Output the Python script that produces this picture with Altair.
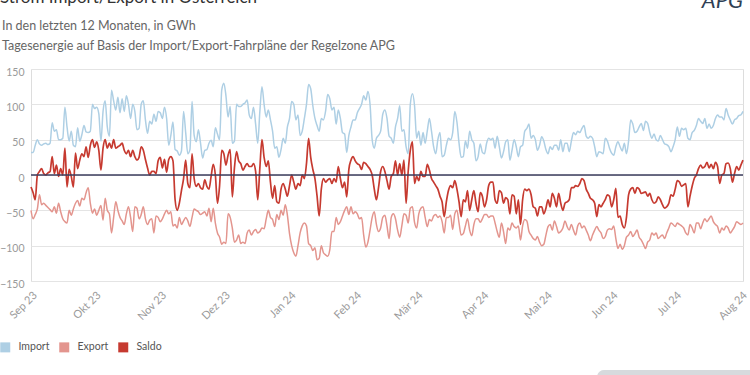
import altair as alt
import pandas as pd

# ---------------- data (daily values in GWh) ----------------
start_date = "2023-09-01"

import_vals = [
    32, 32, 42, 50, 44, 42, 44, 45, 43, 45, 74, 62, 64, 50, 50, 52, 96, 68, 48, 62,
    42, 40, 67, 48, 57, 70, 61, 60, 62, 100, 94, 96, 87, 48, 90, 105, 68, 55, 120, 105,
    92, 110, 88, 108, 90, 112, 100,
    80, 100, 90, 64, 66, 100, 105, 78, 59, 76, 72, 86, 76, 90, 88, 80, 96, 80, 42, 56,
    75, 36, 34, 28, 34, 90, 60, 30, 36, 104, 56, 47, 64, 45, 24, 35, 36, 45, 49, 40,
    67, 58, 50, 120, 130, 112, 82, 97, 45, 48, 100, 97, 97, 100, 102, 106, 85,
    80, 96, 72, 45, 90, 125, 100, 82, 92, 78, 62, 38, 40, 25, 36, 52, 45, 68, 80, 104,
    100, 78, 85, 56, 62, 80, 100, 128, 122, 98, 80, 70, 62, 80, 78, 90, 114, 108, 92, 96,
    72, 92, 80, 60, 58, 32, 56, 68, 78, 78, 88, 94, 100, 112, 106, 118, 100,
    50, 38, 52, 56, 62, 86, 92, 80, 55, 52, 45, 68, 80, 98, 62, 64, 40, 30, 100, 115,
    98, 52, 62, 42, 60, 45, 62, 80, 62, 40, 30, 50, 60, 26, 28, 42, 52, 50, 60, 90,
    75, 45, 25, 26, 48, 38, 62, 50, 45, 20, 26, 44, 32, 30, 45, 52,
    50, 52, 38, 55, 40, 24, 33, 47, 50, 21, 35, 50, 40, 26, 40, 42, 62, 66, 72, 52,
    56, 50, 35, 42, 54, 48, 36, 30, 40, 36, 42, 42, 35, 50, 33, 45, 45, 33, 48, 60,
    57, 62, 60, 66, 70, 55, 52, 55, 52, 40, 26, 33, 32, 30, 52, 48, 38,
    31, 28, 40, 47, 40, 34, 45, 30, 48, 78, 72, 60, 62, 68, 73, 63, 76, 73, 60, 52,
    58, 50, 48, 56, 50, 44, 43, 40, 33, 40, 50, 68, 55, 66, 64, 66, 52, 50, 60, 63,
    70, 80, 76, 73, 80, 66, 72, 66, 70, 80, 85, 82, 82, 78, 94, 85, 78, 72, 78, 80,
    84, 85, 90,
]

export_vals = [
    -50, -62, -56, -48, -28, -42, -40, -43, -46, -49, -52, -45, -54, -40, -52, -62, -66, -68, -50, -57,
    -48, -40, -36, -44, -33, -35, -25, -18, -40, -54, -48, -57, -50, -43, -64, -33, -50, -55, -82, -60,
    -38, -50, -60, -65, -70, -55, -45,
    -60, -80, -45, -47, -62, -56, -45, -62, -70, -64, -62, -82, -58, -60, -66, -62, -55, -50, -55, -52,
    -72, -70, -75, -60, -70, -65, -60, -65, -73, -60, -48, -50, -52, -56, -54, -52, -58, -47, -66, -47,
    -68, -82, -88, -98, -95, -97, -55, -60, -75, -95, -92, -85, -97, -95, -97, -82, -78,
    -85, -80, -77, -82, -80, -75, -76, -62, -50, -60, -63, -73, -56, -63, -50, -57, -42, -57, -83, -100,
    -110, -115, -100, -82, -72, -68, -72, -97, -100, -107, -103, -120, -118, -100, -110, -113, -115, -106, -80, -80,
    -60, -70, -66, -58, -50, -45, -56, -45, -55, -52, -55, -62, -60, -85, -102, -95, -78,
    -60, -52, -70, -80, -75, -60, -57, -72, -90, -60, -55, -62, -78, -88, -72, -55, -57, -68, -47, -45,
    -67, -75, -55, -47, -45, -60, -73, -63, -65, -58, -56, -60, -58, -66, -82, -60, -60, -57, -77, -55,
    -50, -68, -85, -83, -72, -62, -78, -86, -70, -62, -62, -67, -62, -56, -56, -60,
    -58, -58, -68, -80, -88, -68, -80, -97, -75, -78, -68, -73, -75, -72, -92, -72, -63, -65, -80, -85,
    -90, -92, -87, -95, -100, -98, -85, -73, -70, -78, -65, -73, -82, -80, -75, -65, -73, -78, -70, -78,
    -85, -72, -68, -75, -72, -78, -85, -93, -85, -78, -73, -78, -82, -90, -87, -78, -76,
    -77, -72, -90, -104, -98, -105, -100, -88, -85, -80, -87, -83, -78, -88, -92, -98, -104, -95, -92, -82,
    -85, -82, -90, -87, -85, -90, -82, -75, -68, -70, -73, -68, -70, -72, -75, -82, -85, -70, -75, -82,
    -68, -68, -76, -68, -62, -66, -62, -58, -66, -70, -73, -82, -75, -78, -72, -75, -82, -78, -73, -66,
    -68, -70, -68,
]

saldo_vals = [
    -17, -25, -35, 0, 5, 9, 2, 0, 3, 5, 26, 2, 14, -2, 9, 0, 38, -17, 8, -2,
    -17, 31, 9, 21, 30, 26, 40, 25, 42, 50, 39, 47, 35, 7, 38, 50, 38, 45, 38, 50,
    38, 40, 42, 45, 35, 30, 35,
    26, 35, 26, 21, 25, 40, 35, 22, 10, 0, 5, 5, 2, 20, 25, 10, 22, 4, 22, 26,
    20, -35, -50, -40, -22, -5, 21, -12, -18, 30, -5, -16, -12, -18, -20, -7, -16, -20, -2, 15,
    0, -40, -15, 35, 30, 14, 28, 36, -31, 10, 33, 20, 16, 7, 12, 16, 12,
    12, 16, 5, -35, 10, 50, 25, 12, 20, -10, -33, -15, -38, -40, -20, -12, -20, -30, -15, 0,
    -10, -20, -12, -15, 0, -5, 16, 52, 25, 8, -5, -30, -58, -20, -5, -10, -7, -5, -12, -5,
    -10, 12, -5, -18, -10, -31, 8, 21, 26, 20, 16, 14, 8, 18, 16, 12, 8,
    0, -20, -35, -18, 5, 12, 5, -8, -20, -2, 2, 20, 0, 16, 0, 21, -40, 5, 35, 47,
    -12, -2, -8, 5, -2, -2, 15, 7, -5, -10, -15, -20, -30, -38, -59, -38, -22, -15, -18, -8,
    -20, -38, -59, -35, -38, -22, -50, -35, -22, -40, -52, -25, -30, -45, -35, -15,
    -10, -10, -35, -40, -22, -25, -40, -32, -35, -55, -28, -30, -55, -35, -70, -35, -20, -22, -20, -28,
    -45, -47, -58, -45, -45, -55, -47, -35, -45, -26, -33, -45, -26, -40, -50, -40, -38, -35, -18, -18,
    -15, -16, -12, -5, -8, -20, -26, -33, -35, -40, -59, -42, -45, -40, -35, -28, -30,
    -45, -35, -19, -60, -58, -70, -75, -60, -28, -20, -18, -26, -18, -20, -26, -25, -24, -30, -26, -35,
    -40, -38, -31, -35, -42, -47, -45, -40, -28, -30, -20, -8, -10, -16, -14, -12, -45, -30, -16, -5,
    0, 9, 14, 10, 12, 18, 10, 15, 9, 18, 12, -12, 0, 2, 16, 17, 9, -10, 2, 12,
    7, 14, 21,
]

series_names = ["Import", "Export", "Saldo"]
series_colors = ["#aecfe4", "#e3958e", "#c63a30"]
month_labels = ["Jan", "Feb", "Mär", "Apr", "Mai", "Jun", "Jul", "Aug", "Sep", "Okt", "Nov", "Dez"]
y_ticks = [-150, -100, -50, 0, 50, 100, 150]
tick_months = [(2023, 9), (2023, 10), (2023, 11), (2023, 12), (2024, 1), (2024, 2),
               (2024, 3), (2024, 4), (2024, 5), (2024, 6), (2024, 7), (2024, 8)]

title_text = "Strom Import/Export in Österreich"
subtitle_1 = "In den letzten 12 Monaten, in GWh"
subtitle_2 = "Tagesenergie auf Basis der Import/Export-Fahrpläne der Regelzone APG"

# ---------------- build table ----------------
n = min(len(import_vals), len(export_vals), len(saldo_vals))
dates = pd.date_range(start_date, periods=n, freq="D")
frames = []
for name, vals in zip(series_names, [import_vals, export_vals, saldo_vals]):
    frames.append(pd.DataFrame({"date": dates, "value": vals[:n], "series": name}))
df = pd.concat(frames, ignore_index=True)

end = dates[-1]
FONT = "Lato"

x_enc = alt.X(
    "date:T",
    scale=alt.Scale(
        domain=[alt.DateTime(year=2023, month=9, date=1),
                alt.DateTime(year=int(end.year), month=int(end.month), date=int(end.day))],
        nice=False,
    ),
    axis=alt.Axis(
        values=[alt.DateTime(year=y, month=m, date=1) for y, m in tick_months],
        labelExpr="[" + ",".join("'%s'" % m for m in month_labels) + "][month(datum.value)] + ' ' + timeFormat(datum.value, '%y')",
        labelAngle=-45,
        labelColor="#9a9a9a",
        labelFontSize=11,
        labelFont=FONT,
        labelPadding=8,
        grid=False,
        domain=False,
        ticks=False,
        title=None,
    ),
)

y_enc = alt.Y(
    "value:Q",
    scale=alt.Scale(domain=[-150, 150], nice=False, zero=False),
    axis=alt.Axis(
        values=y_ticks,
        grid=True,
        gridColor="#e4e4e4",
        gridWidth=1,
        domain=False,
        ticks=False,
        labelColor="#9a9a9a",
        labelFontSize=10.5,
        labelFont=FONT,
        labelPadding=7,
        labelOffset=3,
        title=None,
    ),
)

colour_of = dict(zip(series_names, series_colors))

def line_layer(name, width):
    return (
        alt.Chart(df)
        .transform_filter(alt.datum.series == name)
        .mark_line(strokeWidth=width, interpolate="monotone", color=colour_of[name])
        .encode(x=x_enc, y=y_enc)
    )

imp = line_layer("Import", 1.5)
exp = line_layer("Export", 1.5)
sal = line_layer("Saldo", 1.7)

zero = (
    alt.Chart(pd.DataFrame({"value": [0]}))
    .mark_rule(color="#3b3d5c", strokeWidth=1.6)
    .encode(y=y_enc)
)

# legend: filled squares, driven by the same names/colours (only scale in the chart)
legend_layer = (
    alt.Chart(pd.DataFrame({"Reihe": series_names}))
    .mark_square(size=0)
    .encode(
        color=alt.Color(
            "Reihe:N",
            scale=alt.Scale(domain=series_names, range=series_colors),
            legend=alt.Legend(
                orient="none",
                legendX=-31,
                legendY=273,
                direction="horizontal",
                title=None,
                symbolType="square",
                symbolSize=100,
                symbolStrokeWidth=0,
                symbolOpacity=1,
                labelFontSize=10.5,
                labelFont=FONT,
                labelColor="#555555",
                labelOffset=8,
                columnPadding=9,
                padding=0,
            ),
        )
    )
)

def text_layer(txt, x, y, size, color, weight="normal", baseline="middle", align="left", style="normal"):
    return (
        alt.Chart(pd.DataFrame({"t": [txt]}))
        .mark_text(align=align, baseline=baseline, fontSize=size, font=FONT,
                   color=color, fontWeight=weight, fontStyle=style)
        .encode(text="t:N", x=alt.value(x), y=alt.value(y))
    )

title_layer = text_layer(title_text, -31, -66, 17, "#333333", baseline="alphabetic")
sub1 = text_layer(subtitle_1, -29, -43, 12.5, "#666666")
sub2 = text_layer(subtitle_2, -29, -23, 12.5, "#666666")
logo = text_layer("APG", 712, -61, 22, "#2f4054", baseline="alphabetic", align="right", style="italic")

button = (
    alt.Chart(pd.DataFrame({"b": [1]}))
    .mark_rect(color="#d7dadd", cornerRadius=7)
    .encode(x=alt.value(566), x2=alt.value(730), y=alt.value(301), y2=alt.value(320))
)

chart = (
    alt.layer(imp, exp, sal, zero, legend_layer, title_layer, sub1, sub2, logo, button)
    .properties(
        width=712,
        height=212,
        padding={"left": 31, "top": 69, "right": 7, "bottom": 94},
        autosize=alt.AutoSizeParams(type="none"),
    )
    .configure_view(stroke=None)
    .configure(font=FONT)
)

chart.save("out.html", embed_options={"renderer": "svg", "actions": False})
